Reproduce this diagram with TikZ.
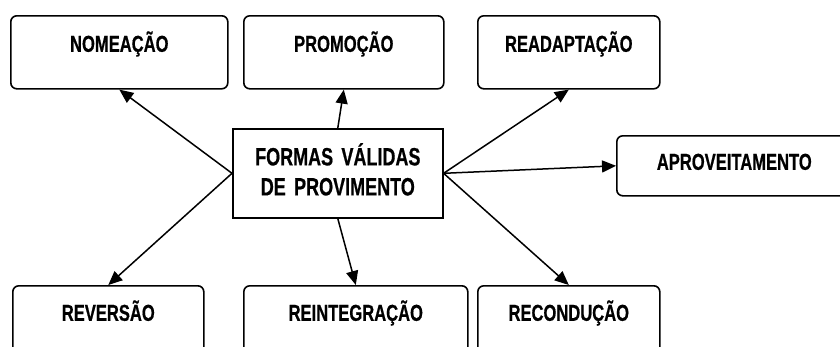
\documentclass[tikz,border=0pt]{standalone}
\usepackage{fontspec}
\setmainfont{Liberation Sans}[FakeStretch=0.72, BoldFeatures={FakeBold=0.6}]
\usetikzlibrary{arrows.meta}
\tikzset{
  box/.style={draw, line width=1.6pt, rounded corners=6pt, inner sep=0pt, anchor=north west, align=center,
    font=\bfseries\fontsize{23}{26}\selectfont},
  centre/.style={draw, line width=1.6pt, inner sep=0pt, anchor=north west, align=center,
    text width=210pt, minimum height=89pt, font=\bfseries\fontsize{25}{30}\selectfont},
  arr/.style={line width=1.5pt, -{Triangle[length=14pt,width=12pt]}}
}
\begin{document}
\begin{tikzpicture}[x=1pt,y=-1pt]
\useasboundingbox (0,0) rectangle (840,346);
\clip (0,0) rectangle (840,346);
\node[box, text width=217pt, text height=36pt, text depth=37pt] (nom) at (10,15) {NOMEAÇÃO};
\node[box, text width=200pt, text height=36pt, text depth=37pt] (prom) at (243,15) {PROMOÇÃO};
\node[box, text width=182pt, text height=36pt, text depth=37pt] (read) at (477,15) {READAPTAÇÃO};
\node[box, text width=235pt, text height=34pt, text depth=26pt] (apro) at (616,135) {APROVEITAMENTO};
\node[box, text width=191pt, text height=35pt, text depth=38pt] (rev) at (12,285) {REVERSÃO};
\node[box, text width=224pt, text height=35pt, text depth=38pt] (rein) at (243,285) {REINTEGRAÇÃO};
\node[box, text width=182pt, text height=35pt, text depth=38pt] (rec) at (477,285) {RECONDUÇÃO};
\node[centre] (c) at (232,128) {FORMAS VÁLIDAS\\DE PROVIMENTO\rule[-8pt]{0pt}{0pt}};
\draw[arr] (c.west) -- (nom.south);
\draw[arr] (c.north) -- (prom.south);
\draw[arr] (c.east) -- (read.south);
\draw[arr] (c.east) -- (apro.west);
\draw[arr] (c.east) -- (rec.north);
\draw[arr] (c.south) -- (rein.north);
\draw[arr] (c.west) -- (rev.north);
\end{tikzpicture}
\end{document}
